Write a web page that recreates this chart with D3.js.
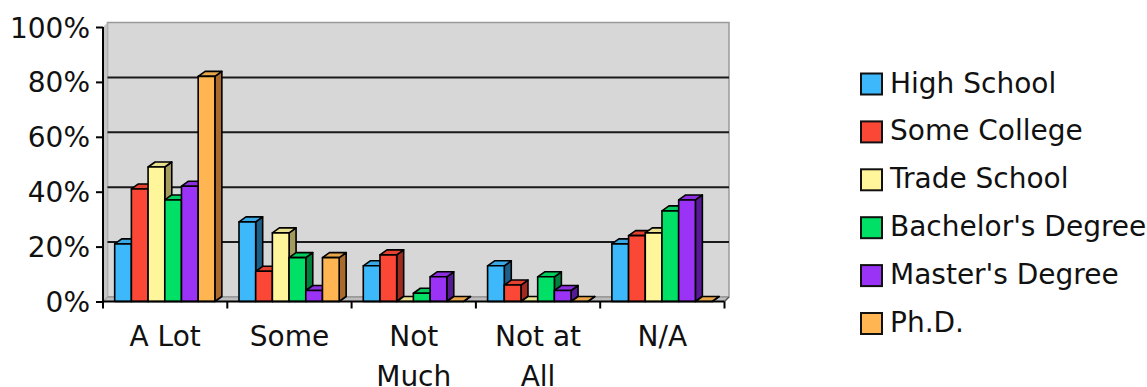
<!DOCTYPE html>
<html>
<head>
<meta charset="utf-8">
<script src="https://cdn.jsdelivr.net/npm/d3@7"></script>
<style>
  html, body { margin: 0; padding: 0; background: #fff; }
  svg { display: block; }
  text { font-family: "DejaVu Sans", Verdana, sans-serif; fill: #111; }
</style>
</head>
<body>
<svg id="chart" width="1147" height="387"></svg>
<script>
// Survey answers by education level (percent of respondents)
const categories = ["A Lot", "Some", "Not Much", "Not at All", "N/A"];
const categoryLines = [["A Lot"], ["Some"], ["Not", "Much"], ["Not at", "All"], ["N/A"]];
const seriesNames = ["High School", "Some College", "Trade School", "Bachelor's Degree", "Master's Degree", "Ph.D."];
const highSchool  = [21, 29, 13, 13, 21];
const someCollege = [41, 11, 17, 6, 24];
const tradeSchool = [49, 25, 0, 0, 25];
const bachelors   = [37, 16, 3, 9, 33];
const masters     = [42, 4, 9, 4, 37];
const phd         = [82, 16, 0, 0, 0];
const yTicks = [0, 20, 40, 60, 80, 100];

const seriesValues = [highSchool, someCollege, tradeSchool, bachelors, masters, phd];
const fronts = ["#3db8fb", "#fa4736", "#fff69b", "#00e066", "#9a33f5", "#ffb552"];
const sides  = ["#1d5f86", "#a02a20", "#a39b5e", "#00803a", "#561a94", "#a86a2d"];

const svg = d3.select("#chart");

// plot geometry (front plane)
const plotLeft = 103, plotRight = 724.5, plotBase = 301.5, plotTop = 27;
const wallDX = 4.5, wallDY = -4.5;   // back wall offset
const barDX = 7, barDY = -5;         // column depth

const x = d3.scaleBand().domain(categories).range([plotLeft, plotRight]).paddingInner(0).paddingOuter(0);
const bw = x.bandwidth();
const xs = d3.scaleBand().domain(seriesNames).range([bw * 0.094, bw * 0.9]).padding(0);
const y = d3.scaleLinear().domain([0, 100]).range([plotBase, plotTop]);

// back wall
const wall = svg.append("g");
wall.append("rect")
  .attr("x", plotLeft + wallDX).attr("y", y(100) + wallDY)
  .attr("width", plotRight - plotLeft).attr("height", y(0) - y(100))
  .attr("fill", "#d7d7d7").attr("stroke", "#9a9a9a").attr("stroke-width", 1.5);
// left side wall strip
wall.append("path")
  .attr("d", `M${plotLeft},${y(100)} L${plotLeft + wallDX},${y(100) + wallDY} L${plotLeft + wallDX},${y(0) + wallDY} L${plotLeft},${y(0)} Z`)
  .attr("fill", "#c4c4c4").attr("stroke", "none");
// floor
wall.append("path")
  .attr("d", `M${plotLeft},${y(0)} L${plotLeft + wallDX},${y(0) + wallDY} L${plotRight + wallDX},${y(0) + wallDY} L${plotRight},${y(0)} Z`)
  .attr("fill", "#bdbdbd").attr("stroke", "#8a8a8a").attr("stroke-width", 1);

// gridlines on the back wall
wall.selectAll("line.grid").data(yTicks.filter(d => d > 0 && d < 100)).join("line")
  .attr("class", "grid")
  .attr("x1", plotLeft + wallDX).attr("x2", plotRight + wallDX)
  .attr("y1", d => y(d) + wallDY).attr("y2", d => y(d) + wallDY)
  .attr("stroke", "#1a1a1a").attr("stroke-width", 2);

// 3D columns, painted left to right
const bars = [];
categories.forEach((c, ci) => {
  seriesNames.forEach((s, si) => {
    bars.push({ c, s, si, v: seriesValues[si][ci] });
  });
});
const gBars = svg.append("g");
bars.forEach(d => {
  const x0 = x(d.c) + xs(d.s), x1 = x0 + xs.bandwidth();
  const yt = y(d.v), yb = y(0);
  const g = gBars.append("g")
    .attr("stroke", "#000").attr("stroke-width", 1.6).attr("stroke-linejoin", "round");
  // right side face
  g.append("path")
    .attr("d", `M${x1},${yt} L${x1 + barDX},${yt + barDY} L${x1 + barDX},${yb + barDY} L${x1},${yb} Z`)
    .attr("fill", sides[d.si]);
  // top face
  g.append("path")
    .attr("d", `M${x0},${yt} L${x0 + barDX},${yt + barDY} L${x1 + barDX},${yt + barDY} L${x1},${yt} Z`)
    .attr("fill", d3.color(fronts[d.si]).darker(0.25));
  // front face
  g.append("rect")
    .attr("x", x0).attr("y", yt).attr("width", x1 - x0).attr("height", yb - yt)
    .attr("fill", fronts[d.si]);
});

// value axis
const yAxis = svg.append("g")
  .attr("transform", `translate(${plotLeft},0)`)
  .call(d3.axisLeft(y).tickValues(yTicks).tickFormat(d => d + "%").tickSize(7).tickPadding(6));
yAxis.select(".domain").attr("stroke", "#000").attr("stroke-width", 2).attr("d", `M0,${y(100)}V${y(0)}`);
yAxis.selectAll(".tick line").attr("stroke", "#000").attr("stroke-width", 2);
yAxis.selectAll(".tick text").attr("font-size", 28).attr("font-family", "DejaVu Sans, Verdana, sans-serif")
  .attr("fill", "#111").attr("dy", "0.36em");

// category axis
const xAxis = svg.append("g");
xAxis.append("line").attr("x1", plotLeft).attr("x2", plotRight).attr("y1", plotBase).attr("y2", plotBase)
  .attr("stroke", "#000").attr("stroke-width", 2);
xAxis.append("line").attr("x1", plotRight).attr("x2", plotRight + wallDX).attr("y1", plotBase).attr("y2", plotBase + wallDY)
  .attr("stroke", "#555").attr("stroke-width", 1.5);
const edges = categories.map(c => x(c)).concat([plotRight]);
xAxis.selectAll("line.tick").data(edges).join("line")
  .attr("class", "tick")
  .attr("x1", d => d).attr("x2", d => d).attr("y1", plotBase).attr("y2", plotBase + 7)
  .attr("stroke", "#000").attr("stroke-width", 2);
const labels = xAxis.selectAll("text.cat").data(categories).join("text")
  .attr("class", "cat")
  .attr("x", d => x(d) + bw / 2).attr("y", 346)
  .attr("text-anchor", "middle").attr("font-size", 28);
labels.each(function (d, i) {
  const t = d3.select(this);
  categoryLines[i].forEach((line, li) => {
    t.append("tspan").attr("x", x(d) + bw / 2).attr("dy", li === 0 ? 0 : 40).text(line);
  });
});

// legend
const legend = svg.append("g").attr("transform", "translate(861,84)");
const rowGap = 47.9;
const items = legend.selectAll("g").data(seriesNames).join("g")
  .attr("transform", (d, i) => `translate(0,${i * rowGap})`);
items.append("rect").attr("x", 0).attr("y", -10.5).attr("width", 21).attr("height", 21)
  .attr("fill", (d, i) => fronts[i]).attr("stroke", "#111").attr("stroke-width", 2);
items.append("text").attr("x", 29).attr("y", 8.5).attr("font-size", 28).text(d => d);
</script>
</body>
</html>
